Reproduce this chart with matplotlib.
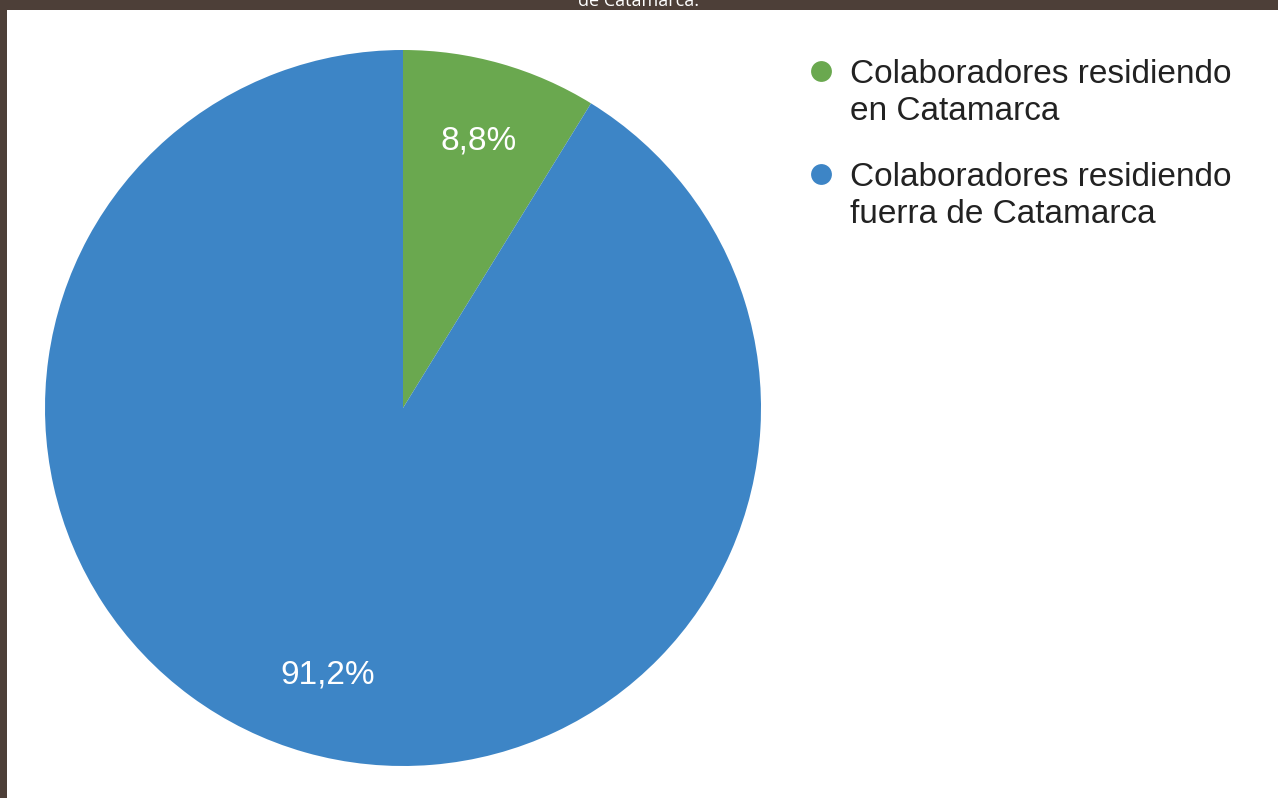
import matplotlib.pyplot as plt
from matplotlib.patches import Rectangle
from matplotlib.lines import Line2D

labels = ["Colaboradores residiendo\nen Catamarca",
          "Colaboradores residiendo\nfuerra de Catamarca"]
values = [8.8, 91.2]
colors = ["#6aa84f", "#3d85c6"]
title = "de Catamarca."

W, H = 1278, 798
fig = plt.figure(figsize=(W / 100, H / 100), dpi=100)
fig.patch.set_facecolor("#4d3f38")

# white page area (dark strip at top and left)
fig.patches.append(Rectangle((7 / W, 0), 1 - 7 / W, 1 - 10 / H,
                             transform=fig.transFigure, facecolor="white",
                             edgecolor="none", zorder=-5))

# clipped caption at the very top
fig.text(0.5, 1 - 6 / H, title, ha="center", va="baseline", color="white",
         fontsize=13, family="Open Sans")

# pie
cx, cy, r = 403, 798 - 408, 358
ax = fig.add_axes([(cx - r) / W, (cy - r) / H, 2 * r / W, 2 * r / H])
ax.set_zorder(2)
wedges, texts, autotexts = ax.pie(
    values, colors=colors, startangle=90, counterclock=False,
    autopct=lambda p: f"{p:.1f}%".replace(".", ","), pctdistance=0.775,
    radius=1, wedgeprops=dict(linewidth=0))
for t in autotexts:
    t.set_color("white")
    t.set_fontsize(24)
    t.set_family("Liberation Sans")
ax.set_xlim(-1, 1)
ax.set_ylim(-1, 1)
ax.set_aspect("equal")
ax.axis("off")

# legend, marker aligned with the first line of each label
leg_y = [71, 174]
for lab, col, y in zip(labels, colors, leg_y):
    fig.add_artist(Line2D([821 / W], [1 - y / H], marker="o", markersize=15,
                          color=col, markeredgewidth=0,
                          transform=fig.transFigure))
    fig.text(850 / W, 1 - (y - 12) / H, lab, ha="left", va="top",
             fontsize=24, color="#222222", family="Liberation Sans",
             linespacing=1.25)

fig.savefig("out.png", dpi=100, facecolor=fig.get_facecolor())
